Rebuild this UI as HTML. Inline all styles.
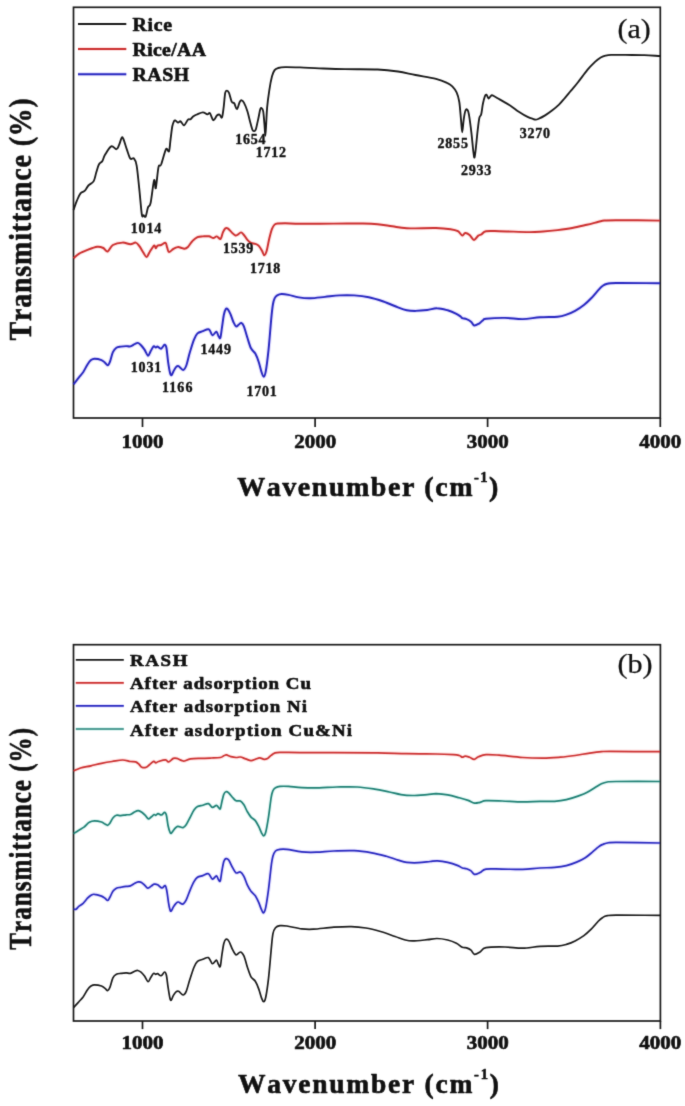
<!DOCTYPE html>
<html><head><meta charset="utf-8"><title>FTIR spectra</title>
<style>
html,body{margin:0;padding:0;background:#fff}
svg{display:block}
text{font-family:'Liberation Serif',serif;fill:#111;stroke:#111;stroke-width:0.6px;stroke-linejoin:round}
</style></head><body>
<svg width="685" height="1106" viewBox="0 0 685 1106">
<defs><filter id="soft" x="0" y="0" width="100%" height="100%" filterUnits="userSpaceOnUse" color-interpolation-filters="sRGB"><feConvolveMatrix order="3" kernelMatrix="0.0144 0.0912 0.0144 0.0912 0.5776 0.0912 0.0144 0.0912 0.0144" edgeMode="duplicate"/></filter></defs>
<rect width="685" height="1106" fill="#fff"/>
<g filter="url(#soft)">
<rect width="685" height="1106" fill="#fff"/>
<rect x="73.5" y="7.3" width="586.8" height="410.7" fill="none" stroke="#1a1a1a" stroke-width="1.7"/>
<line x1="142.5" y1="418.0" x2="142.5" y2="427.0" stroke="#1a1a1a" stroke-width="1.7"/>
<line x1="315.1" y1="418.0" x2="315.1" y2="427.0" stroke="#1a1a1a" stroke-width="1.7"/>
<line x1="487.6" y1="418.0" x2="487.6" y2="427.0" stroke="#1a1a1a" stroke-width="1.7"/>
<line x1="660.3" y1="418.0" x2="660.3" y2="427.0" stroke="#1a1a1a" stroke-width="1.7"/>
<rect x="73.5" y="644.7" width="586.9" height="376.3" fill="none" stroke="#1a1a1a" stroke-width="1.7"/>
<line x1="142.5" y1="1021.0" x2="142.5" y2="1029.1" stroke="#1a1a1a" stroke-width="1.7"/>
<line x1="315.1" y1="1021.0" x2="315.1" y2="1029.1" stroke="#1a1a1a" stroke-width="1.7"/>
<line x1="487.6" y1="1021.0" x2="487.6" y2="1029.1" stroke="#1a1a1a" stroke-width="1.7"/>
<line x1="660.4" y1="1021.0" x2="660.4" y2="1029.1" stroke="#1a1a1a" stroke-width="1.7"/>
<path d="M73.5 210.0C74.1 208.4 75.8 203.2 77.0 200.4C78.2 197.6 79.2 195.0 80.5 193.4C81.8 191.8 83.6 192.0 84.9 190.7C86.2 189.4 86.9 187.1 88.4 185.5C89.9 183.9 92.4 183.3 93.7 181.1C95.0 178.9 95.4 175.1 96.3 172.3C97.2 169.5 97.9 166.4 98.9 164.5C99.9 162.6 101.4 162.6 102.4 161.0C103.4 159.4 103.5 157.2 105.0 154.8C106.5 152.4 109.3 147.3 111.2 146.4C113.1 145.5 115.1 149.4 116.4 149.2C117.7 149.0 118.1 147.1 119.0 145.2C119.9 143.3 121.0 138.7 121.7 137.7C122.4 136.7 122.5 137.0 123.4 139.0C124.3 141.0 125.7 146.3 126.9 149.6C128.1 152.9 129.2 157.2 130.4 158.7C131.6 160.1 132.9 157.2 133.9 158.3C134.9 159.4 135.7 160.3 136.6 165.3C137.5 170.3 138.3 179.9 139.2 188.1C140.1 196.3 141.1 209.9 141.8 214.4C142.5 218.9 142.9 215.0 143.6 215.3C144.2 215.7 145.0 217.8 145.7 216.5C146.4 215.2 147.2 209.7 148.0 207.4C148.8 205.2 149.6 207.5 150.6 203.0C151.6 198.5 153.2 182.7 154.1 180.2C155.0 177.7 155.1 190.3 155.8 188.1C156.5 185.9 157.6 171.0 158.5 167.1C159.4 163.2 159.8 167.5 161.1 164.5C162.3 161.5 164.7 151.4 166.0 149.2C167.3 147.0 168.2 153.0 169.0 151.3C169.8 149.6 170.0 143.2 170.6 139.0C171.2 134.8 171.7 129.3 172.3 126.3C172.9 123.3 173.5 122.2 174.0 121.2C174.5 120.2 174.6 120.2 175.3 120.4C176.0 120.6 177.1 122.4 178.0 122.6C178.9 122.8 179.6 120.8 180.6 121.3C181.6 121.8 182.9 125.7 184.1 125.4C185.3 125.1 186.9 120.6 188.0 119.6C189.1 118.6 189.8 119.8 190.6 119.3C191.4 118.8 191.8 117.6 192.8 116.8C193.8 116.0 195.1 115.2 196.8 114.5C198.5 113.8 201.2 112.3 202.9 112.3C204.7 112.3 206.1 114.2 207.3 114.4C208.5 114.6 208.9 112.2 209.9 113.2C210.9 114.2 212.2 119.8 213.4 120.2C214.6 120.6 215.9 116.4 216.9 115.5C217.9 114.6 218.8 114.3 219.6 114.6C220.4 114.9 221.3 118.8 222.0 117.4C222.7 116.0 223.3 110.2 223.8 106.1C224.3 102.0 224.7 95.5 225.2 92.9C225.7 90.3 226.4 90.6 227.0 90.6C227.6 90.6 228.2 91.1 229.0 92.9C229.8 94.8 230.8 100.0 231.7 101.7C232.6 103.5 233.4 102.2 234.3 103.4C235.2 104.7 236.0 109.4 236.9 109.2C237.8 109.0 238.8 103.7 239.6 102.2C240.4 100.7 241.0 100.2 241.7 100.3C242.4 100.4 242.9 100.8 243.9 102.6C244.9 104.4 246.4 108.1 247.4 111.3C248.4 114.5 249.3 118.7 250.1 121.8C250.9 124.9 251.8 128.1 252.4 129.7C253.0 131.2 253.4 131.1 253.9 131.1C254.4 131.1 255.0 131.5 255.7 129.7C256.4 127.9 257.2 123.4 258.0 120.1C258.8 116.8 259.6 111.6 260.2 109.6C260.8 107.6 261.1 107.9 261.6 108.2C262.1 108.5 262.7 108.7 263.2 111.3C263.7 113.9 264.0 119.5 264.4 123.6C264.8 127.7 265.0 135.8 265.3 135.8C265.6 135.8 265.9 128.3 266.2 123.6C266.5 118.9 266.6 113.3 267.1 107.8C267.6 102.2 268.5 95.5 269.3 90.3C270.1 85.0 271.1 79.7 272.0 76.3C272.9 72.9 273.6 71.5 274.6 70.1C275.6 68.7 276.4 68.5 278.1 68.0C279.9 67.5 281.5 67.2 285.1 67.1C288.8 67.0 294.3 67.2 300.0 67.4C305.7 67.6 311.7 68.0 319.2 68.3C326.7 68.6 335.3 69.0 345.0 69.2C354.7 69.4 368.8 69.1 377.6 69.5C386.4 69.9 391.7 70.6 398.0 71.5C404.3 72.4 409.2 73.8 415.5 75.0C421.8 76.2 430.8 77.5 436.0 78.8C441.2 80.1 444.3 81.5 447.0 82.8C449.7 84.0 450.7 84.7 452.3 86.3C453.9 87.9 455.4 89.8 456.6 92.4C457.8 95.0 458.6 97.5 459.3 102.0C460.0 106.5 460.5 114.6 461.0 119.6C461.5 124.6 461.8 132.2 462.2 132.2C462.6 132.2 463.2 123.2 463.7 119.6C464.2 116.0 464.8 112.5 465.4 110.8C466.0 109.1 466.6 109.0 467.2 109.6C467.8 110.2 468.2 110.3 468.9 114.3C469.6 118.3 470.8 127.5 471.5 133.6C472.2 139.7 472.8 147.1 473.3 151.1C473.8 155.1 474.1 158.2 474.5 157.6C474.9 157.0 475.4 152.2 475.9 147.6C476.4 143.0 477.1 135.1 477.7 130.1C478.3 125.1 478.8 120.4 479.4 117.8C480.0 115.2 480.6 116.6 481.2 114.3C481.8 112.0 482.3 106.7 482.9 103.8C483.5 100.9 484.1 98.3 484.7 96.8C485.3 95.3 485.7 94.4 486.4 94.7C487.1 95.0 488.0 98.3 488.7 98.5C489.4 98.7 490.1 96.4 490.8 95.9C491.5 95.4 491.1 94.8 492.6 95.4C494.1 96.0 496.7 97.7 499.6 99.4C502.5 101.1 506.9 103.5 510.1 105.5C513.3 107.5 515.9 109.8 518.8 111.7C521.7 113.6 525.2 115.7 527.6 116.9C530.0 118.1 531.6 118.5 532.9 118.9C534.2 119.4 534.6 119.6 535.5 119.6C536.4 119.6 536.5 119.7 538.1 119.0C539.7 118.3 542.8 116.8 545.1 115.4C547.4 114.0 549.7 112.4 552.0 110.6C554.3 108.8 556.8 106.7 559.0 104.6C561.2 102.5 563.0 100.1 565.0 97.8C567.0 95.5 568.8 93.2 571.0 90.6C573.2 88.0 575.3 85.7 578.0 82.2C580.7 78.8 584.6 73.3 587.4 69.9C590.2 66.5 592.8 64.0 595.0 61.9C597.2 59.8 599.0 58.5 600.7 57.5C602.5 56.5 603.8 56.0 605.5 55.6C607.2 55.2 607.9 55.0 611.2 54.9C614.5 54.8 619.9 54.8 625.4 54.9C630.9 55.0 638.6 55.0 644.4 55.2C650.2 55.4 657.4 55.9 660.0 56.0" fill="none" stroke="#1a1a1a" stroke-width="1.85" stroke-linejoin="round" stroke-linecap="butt"/>
<path d="M73.5 258.2C74.4 257.5 76.5 255.2 78.8 253.8C81.1 252.4 84.4 251.1 87.5 249.9C90.6 248.7 94.6 247.1 97.2 246.8C99.8 246.5 101.5 247.2 103.3 248.0C105.0 248.8 106.1 252.0 107.7 251.5C109.3 251.0 110.4 246.5 112.9 245.0C115.4 243.5 119.7 242.7 122.6 242.6C125.5 242.5 128.2 244.2 130.4 244.2C132.6 244.2 134.2 242.3 135.7 242.6C137.2 242.9 137.9 244.2 139.2 245.9C140.5 247.6 142.4 251.1 143.6 252.9C144.8 254.8 145.6 257.1 146.6 257.0C147.6 256.9 148.4 253.9 149.7 252.0C150.9 250.1 153.1 246.2 154.1 245.6C155.1 245.0 155.2 248.2 155.8 248.2C156.4 248.2 156.7 246.1 157.6 245.6C158.5 245.1 159.8 245.5 161.1 245.0C162.4 244.5 164.5 242.4 165.5 242.8C166.5 243.2 166.6 246.2 167.2 247.7C167.8 249.2 168.0 251.8 169.0 252.0C170.0 252.2 172.0 249.7 173.4 248.9C174.8 248.1 176.4 247.3 177.7 247.1C179.0 246.9 179.9 247.4 181.0 247.7C182.1 248.0 183.2 248.8 184.4 248.7C185.6 248.6 186.6 248.2 187.9 247.0C189.2 245.8 190.7 242.8 192.3 241.2C193.9 239.5 195.8 237.9 197.5 237.1C199.2 236.3 200.9 236.5 202.8 236.4C204.7 236.3 207.2 236.0 208.9 236.3C210.7 236.6 212.0 238.0 213.3 238.0C214.6 238.0 215.6 236.2 216.8 236.4C218.0 236.6 219.6 239.6 220.6 238.9C221.6 238.2 222.1 234.1 222.9 232.4C223.7 230.7 224.4 229.3 225.2 228.6C226.0 227.9 226.6 227.8 227.7 228.4C228.8 229.0 230.4 231.2 231.7 232.4C232.9 233.6 234.2 235.0 235.2 235.4C236.2 235.8 236.8 235.2 237.8 234.7C238.8 234.2 240.0 232.3 241.0 232.4C242.0 232.5 242.8 233.8 243.9 235.0C245.0 236.2 246.2 238.6 247.4 239.9C248.6 241.2 249.7 242.2 251.0 242.9C252.3 243.6 254.0 243.3 255.3 243.8C256.6 244.3 257.7 244.7 258.8 245.9C259.9 247.1 261.1 249.2 262.0 250.8C262.9 252.4 263.6 255.2 264.4 255.2C265.2 255.2 265.9 253.6 266.7 250.8C267.5 248.0 268.4 242.2 269.3 238.5C270.2 234.8 271.1 231.2 272.0 228.9C272.9 226.6 273.6 225.5 274.6 224.6C275.6 223.7 276.4 223.7 278.1 223.5C279.9 223.3 281.5 223.3 285.1 223.3C288.8 223.3 291.9 223.6 300.0 223.7C308.1 223.8 323.3 223.6 333.8 223.6C344.3 223.6 355.7 223.4 363.0 223.5C370.3 223.6 372.7 223.7 377.6 224.2C382.5 224.7 387.3 225.6 392.2 226.3C397.1 227.0 399.5 228.0 406.8 228.3C414.1 228.6 428.7 227.8 436.0 228.0C443.3 228.2 447.0 228.7 450.6 229.2C454.2 229.7 455.9 230.1 457.9 231.2C459.8 232.3 461.1 235.3 462.3 235.6C463.5 235.9 464.0 233.1 465.2 233.0C466.4 232.9 468.1 233.8 469.6 235.0C471.1 236.2 472.6 239.9 474.0 240.0C475.4 240.1 477.1 236.5 478.3 235.6C479.6 234.7 480.2 235.0 481.5 234.3C482.8 233.6 483.1 231.7 486.0 231.2C488.9 230.7 492.1 231.0 499.2 231.2C506.3 231.3 521.1 232.0 528.4 232.1C535.7 232.2 538.1 231.8 543.0 231.5C547.9 231.2 552.7 230.7 557.6 230.1C562.5 229.5 567.3 228.9 572.2 228.0C577.1 227.1 582.4 225.8 586.8 224.8C591.2 223.8 595.6 222.5 598.5 221.8C601.4 221.1 601.4 220.8 604.3 220.5C607.2 220.2 606.7 220.2 616.0 220.2C625.3 220.2 652.7 220.5 660.0 220.6" fill="none" stroke="rgba(255,40,40,0.10)" stroke-width="4.15" stroke-linejoin="round" stroke-linecap="butt"/>
<path d="M73.5 258.2C74.4 257.5 76.5 255.2 78.8 253.8C81.1 252.4 84.4 251.1 87.5 249.9C90.6 248.7 94.6 247.1 97.2 246.8C99.8 246.5 101.5 247.2 103.3 248.0C105.0 248.8 106.1 252.0 107.7 251.5C109.3 251.0 110.4 246.5 112.9 245.0C115.4 243.5 119.7 242.7 122.6 242.6C125.5 242.5 128.2 244.2 130.4 244.2C132.6 244.2 134.2 242.3 135.7 242.6C137.2 242.9 137.9 244.2 139.2 245.9C140.5 247.6 142.4 251.1 143.6 252.9C144.8 254.8 145.6 257.1 146.6 257.0C147.6 256.9 148.4 253.9 149.7 252.0C150.9 250.1 153.1 246.2 154.1 245.6C155.1 245.0 155.2 248.2 155.8 248.2C156.4 248.2 156.7 246.1 157.6 245.6C158.5 245.1 159.8 245.5 161.1 245.0C162.4 244.5 164.5 242.4 165.5 242.8C166.5 243.2 166.6 246.2 167.2 247.7C167.8 249.2 168.0 251.8 169.0 252.0C170.0 252.2 172.0 249.7 173.4 248.9C174.8 248.1 176.4 247.3 177.7 247.1C179.0 246.9 179.9 247.4 181.0 247.7C182.1 248.0 183.2 248.8 184.4 248.7C185.6 248.6 186.6 248.2 187.9 247.0C189.2 245.8 190.7 242.8 192.3 241.2C193.9 239.5 195.8 237.9 197.5 237.1C199.2 236.3 200.9 236.5 202.8 236.4C204.7 236.3 207.2 236.0 208.9 236.3C210.7 236.6 212.0 238.0 213.3 238.0C214.6 238.0 215.6 236.2 216.8 236.4C218.0 236.6 219.6 239.6 220.6 238.9C221.6 238.2 222.1 234.1 222.9 232.4C223.7 230.7 224.4 229.3 225.2 228.6C226.0 227.9 226.6 227.8 227.7 228.4C228.8 229.0 230.4 231.2 231.7 232.4C232.9 233.6 234.2 235.0 235.2 235.4C236.2 235.8 236.8 235.2 237.8 234.7C238.8 234.2 240.0 232.3 241.0 232.4C242.0 232.5 242.8 233.8 243.9 235.0C245.0 236.2 246.2 238.6 247.4 239.9C248.6 241.2 249.7 242.2 251.0 242.9C252.3 243.6 254.0 243.3 255.3 243.8C256.6 244.3 257.7 244.7 258.8 245.9C259.9 247.1 261.1 249.2 262.0 250.8C262.9 252.4 263.6 255.2 264.4 255.2C265.2 255.2 265.9 253.6 266.7 250.8C267.5 248.0 268.4 242.2 269.3 238.5C270.2 234.8 271.1 231.2 272.0 228.9C272.9 226.6 273.6 225.5 274.6 224.6C275.6 223.7 276.4 223.7 278.1 223.5C279.9 223.3 281.5 223.3 285.1 223.3C288.8 223.3 291.9 223.6 300.0 223.7C308.1 223.8 323.3 223.6 333.8 223.6C344.3 223.6 355.7 223.4 363.0 223.5C370.3 223.6 372.7 223.7 377.6 224.2C382.5 224.7 387.3 225.6 392.2 226.3C397.1 227.0 399.5 228.0 406.8 228.3C414.1 228.6 428.7 227.8 436.0 228.0C443.3 228.2 447.0 228.7 450.6 229.2C454.2 229.7 455.9 230.1 457.9 231.2C459.8 232.3 461.1 235.3 462.3 235.6C463.5 235.9 464.0 233.1 465.2 233.0C466.4 232.9 468.1 233.8 469.6 235.0C471.1 236.2 472.6 239.9 474.0 240.0C475.4 240.1 477.1 236.5 478.3 235.6C479.6 234.7 480.2 235.0 481.5 234.3C482.8 233.6 483.1 231.7 486.0 231.2C488.9 230.7 492.1 231.0 499.2 231.2C506.3 231.3 521.1 232.0 528.4 232.1C535.7 232.2 538.1 231.8 543.0 231.5C547.9 231.2 552.7 230.7 557.6 230.1C562.5 229.5 567.3 228.9 572.2 228.0C577.1 227.1 582.4 225.8 586.8 224.8C591.2 223.8 595.6 222.5 598.5 221.8C601.4 221.1 601.4 220.8 604.3 220.5C607.2 220.2 606.7 220.2 616.0 220.2C625.3 220.2 652.7 220.5 660.0 220.6" fill="none" stroke="#cc3030" stroke-width="1.95" stroke-linejoin="round" stroke-linecap="butt"/>
<path d="M73.5 384.3C74.4 383.2 77.2 379.6 78.8 377.6C80.4 375.6 81.6 374.5 83.1 372.3C84.5 370.1 86.2 366.5 87.5 364.5C88.8 362.5 89.8 361.1 91.0 360.1C92.2 359.1 92.8 358.7 94.5 358.7C96.2 358.7 99.8 359.4 101.5 360.1C103.2 360.8 104.0 361.8 105.0 362.7C106.0 363.6 106.9 365.4 107.7 365.3C108.5 365.2 109.0 364.0 109.9 361.8C110.8 359.6 111.8 354.5 112.9 352.2C114.0 349.9 115.1 348.7 116.4 347.8C117.7 346.9 119.2 346.9 120.8 346.6C122.4 346.3 124.5 346.1 126.1 346.1C127.7 346.1 128.9 346.8 130.4 346.4C131.9 346.0 133.6 344.6 134.8 344.0C136.0 343.4 136.8 342.7 137.8 342.9C138.8 343.1 139.9 344.1 141.0 345.2C142.1 346.3 143.3 347.9 144.5 349.6C145.7 351.4 147.0 355.4 148.0 355.7C149.0 356.0 149.7 352.9 150.6 351.3C151.5 349.8 152.7 347.0 153.6 346.4C154.5 345.8 155.1 347.5 155.8 347.5C156.5 347.5 156.7 346.4 157.6 346.6C158.5 346.8 159.9 349.0 161.1 348.7C162.3 348.4 163.7 344.9 164.6 344.8C165.5 344.7 165.8 345.0 166.4 347.8C167.0 350.6 167.5 357.7 168.1 361.8C168.7 365.9 169.4 370.1 169.9 372.3C170.4 374.6 170.7 375.4 171.3 375.3C171.9 375.2 172.6 372.9 173.4 371.5C174.2 370.1 175.1 368.0 176.0 367.1C176.9 366.2 177.4 365.7 178.6 366.2C179.8 366.7 181.8 370.1 183.1 370.0C184.4 369.9 185.2 368.4 186.3 365.5C187.4 362.6 188.5 356.8 189.8 352.5C191.1 348.2 192.7 342.8 194.0 339.6C195.3 336.4 196.0 334.8 197.5 333.4C199.0 332.0 200.9 331.9 202.8 331.2C204.7 330.5 207.3 328.7 208.9 329.4C210.5 330.1 211.2 334.8 212.4 335.2C213.7 335.6 215.4 331.5 216.4 331.7C217.4 331.9 217.8 335.1 218.5 336.1C219.2 337.1 219.7 339.3 220.3 337.8C220.9 336.3 221.4 331.1 222.0 327.3C222.6 323.5 223.2 318.1 223.8 315.0C224.5 311.9 225.2 309.8 225.9 308.9C226.6 308.0 227.4 308.8 228.2 309.8C229.0 310.8 229.9 313.0 230.8 315.0C231.7 317.0 232.5 320.1 233.4 322.0C234.3 323.9 235.2 325.9 236.1 326.4C237.0 326.8 237.8 325.3 238.7 324.7C239.6 324.1 240.4 322.6 241.3 322.9C242.2 323.2 242.9 323.9 243.9 326.4C244.9 328.9 246.2 334.1 247.4 337.8C248.6 341.5 249.7 345.7 251.0 348.3C252.3 350.9 254.0 351.3 255.3 353.6C256.6 355.9 257.8 359.2 258.8 362.3C259.8 365.4 260.7 369.6 261.5 372.0C262.3 374.4 263.0 376.8 263.7 376.7C264.4 376.6 265.0 375.5 265.8 371.1C266.6 366.7 267.6 358.6 268.5 350.1C269.4 341.6 270.4 327.9 271.1 320.3C271.8 312.7 272.3 308.1 272.9 304.5C273.5 300.9 273.9 299.9 274.6 298.4C275.3 296.9 276.0 296.1 277.2 295.4C278.4 294.7 279.7 294.1 281.6 294.0C283.5 293.9 285.7 294.3 288.6 294.9C291.5 295.5 295.2 296.8 298.8 297.4C302.4 298.0 306.0 298.4 310.4 298.3C314.8 298.2 320.1 297.4 325.0 296.9C329.9 296.4 334.7 295.6 339.6 295.4C344.5 295.1 349.3 295.1 354.2 295.4C359.1 295.7 363.9 296.2 368.8 297.2C373.7 298.2 378.5 299.8 383.4 301.5C388.3 303.2 394.1 305.9 398.0 307.4C401.9 308.9 403.9 309.7 406.8 310.3C409.7 310.9 412.1 310.9 415.5 310.9C418.9 310.8 423.6 310.4 427.2 310.0C430.8 309.6 433.5 308.1 436.9 308.2C440.3 308.2 444.4 309.4 447.7 310.3C450.9 311.2 454.2 312.7 456.4 313.8C458.6 314.9 459.8 316.0 460.8 316.7C461.8 317.4 461.3 317.8 462.3 318.2C463.3 318.6 465.2 318.5 466.6 319.1C468.1 319.7 469.7 320.6 471.0 321.7C472.3 322.8 472.9 325.2 474.2 325.5C475.5 325.8 477.6 324.4 479.0 323.6C480.4 322.8 481.5 321.3 482.7 320.5C483.9 319.7 482.3 319.2 486.0 318.8C489.7 318.4 498.9 317.8 505.0 317.9C511.1 317.9 516.8 319.2 522.6 319.1C528.4 319.0 534.2 317.7 540.0 317.3C545.8 316.9 553.2 317.1 557.6 316.7C562.0 316.3 563.5 315.7 566.4 314.7C569.3 313.7 572.2 312.5 575.1 310.9C578.0 309.3 581.2 307.1 583.9 305.0C586.6 302.9 588.8 300.8 591.2 298.3C593.6 295.8 596.6 292.0 598.5 289.9C600.4 287.8 601.3 286.8 602.8 285.8C604.2 284.8 605.0 284.3 607.2 283.8C609.4 283.3 607.2 283.1 616.0 283.0C624.8 282.9 652.7 283.2 660.0 283.2" fill="none" stroke="rgba(70,50,255,0.12)" stroke-width="4.15" stroke-linejoin="round" stroke-linecap="butt"/>
<path d="M73.5 384.3C74.4 383.2 77.2 379.6 78.8 377.6C80.4 375.6 81.6 374.5 83.1 372.3C84.5 370.1 86.2 366.5 87.5 364.5C88.8 362.5 89.8 361.1 91.0 360.1C92.2 359.1 92.8 358.7 94.5 358.7C96.2 358.7 99.8 359.4 101.5 360.1C103.2 360.8 104.0 361.8 105.0 362.7C106.0 363.6 106.9 365.4 107.7 365.3C108.5 365.2 109.0 364.0 109.9 361.8C110.8 359.6 111.8 354.5 112.9 352.2C114.0 349.9 115.1 348.7 116.4 347.8C117.7 346.9 119.2 346.9 120.8 346.6C122.4 346.3 124.5 346.1 126.1 346.1C127.7 346.1 128.9 346.8 130.4 346.4C131.9 346.0 133.6 344.6 134.8 344.0C136.0 343.4 136.8 342.7 137.8 342.9C138.8 343.1 139.9 344.1 141.0 345.2C142.1 346.3 143.3 347.9 144.5 349.6C145.7 351.4 147.0 355.4 148.0 355.7C149.0 356.0 149.7 352.9 150.6 351.3C151.5 349.8 152.7 347.0 153.6 346.4C154.5 345.8 155.1 347.5 155.8 347.5C156.5 347.5 156.7 346.4 157.6 346.6C158.5 346.8 159.9 349.0 161.1 348.7C162.3 348.4 163.7 344.9 164.6 344.8C165.5 344.7 165.8 345.0 166.4 347.8C167.0 350.6 167.5 357.7 168.1 361.8C168.7 365.9 169.4 370.1 169.9 372.3C170.4 374.6 170.7 375.4 171.3 375.3C171.9 375.2 172.6 372.9 173.4 371.5C174.2 370.1 175.1 368.0 176.0 367.1C176.9 366.2 177.4 365.7 178.6 366.2C179.8 366.7 181.8 370.1 183.1 370.0C184.4 369.9 185.2 368.4 186.3 365.5C187.4 362.6 188.5 356.8 189.8 352.5C191.1 348.2 192.7 342.8 194.0 339.6C195.3 336.4 196.0 334.8 197.5 333.4C199.0 332.0 200.9 331.9 202.8 331.2C204.7 330.5 207.3 328.7 208.9 329.4C210.5 330.1 211.2 334.8 212.4 335.2C213.7 335.6 215.4 331.5 216.4 331.7C217.4 331.9 217.8 335.1 218.5 336.1C219.2 337.1 219.7 339.3 220.3 337.8C220.9 336.3 221.4 331.1 222.0 327.3C222.6 323.5 223.2 318.1 223.8 315.0C224.5 311.9 225.2 309.8 225.9 308.9C226.6 308.0 227.4 308.8 228.2 309.8C229.0 310.8 229.9 313.0 230.8 315.0C231.7 317.0 232.5 320.1 233.4 322.0C234.3 323.9 235.2 325.9 236.1 326.4C237.0 326.8 237.8 325.3 238.7 324.7C239.6 324.1 240.4 322.6 241.3 322.9C242.2 323.2 242.9 323.9 243.9 326.4C244.9 328.9 246.2 334.1 247.4 337.8C248.6 341.5 249.7 345.7 251.0 348.3C252.3 350.9 254.0 351.3 255.3 353.6C256.6 355.9 257.8 359.2 258.8 362.3C259.8 365.4 260.7 369.6 261.5 372.0C262.3 374.4 263.0 376.8 263.7 376.7C264.4 376.6 265.0 375.5 265.8 371.1C266.6 366.7 267.6 358.6 268.5 350.1C269.4 341.6 270.4 327.9 271.1 320.3C271.8 312.7 272.3 308.1 272.9 304.5C273.5 300.9 273.9 299.9 274.6 298.4C275.3 296.9 276.0 296.1 277.2 295.4C278.4 294.7 279.7 294.1 281.6 294.0C283.5 293.9 285.7 294.3 288.6 294.9C291.5 295.5 295.2 296.8 298.8 297.4C302.4 298.0 306.0 298.4 310.4 298.3C314.8 298.2 320.1 297.4 325.0 296.9C329.9 296.4 334.7 295.6 339.6 295.4C344.5 295.1 349.3 295.1 354.2 295.4C359.1 295.7 363.9 296.2 368.8 297.2C373.7 298.2 378.5 299.8 383.4 301.5C388.3 303.2 394.1 305.9 398.0 307.4C401.9 308.9 403.9 309.7 406.8 310.3C409.7 310.9 412.1 310.9 415.5 310.9C418.9 310.8 423.6 310.4 427.2 310.0C430.8 309.6 433.5 308.1 436.9 308.2C440.3 308.2 444.4 309.4 447.7 310.3C450.9 311.2 454.2 312.7 456.4 313.8C458.6 314.9 459.8 316.0 460.8 316.7C461.8 317.4 461.3 317.8 462.3 318.2C463.3 318.6 465.2 318.5 466.6 319.1C468.1 319.7 469.7 320.6 471.0 321.7C472.3 322.8 472.9 325.2 474.2 325.5C475.5 325.8 477.6 324.4 479.0 323.6C480.4 322.8 481.5 321.3 482.7 320.5C483.9 319.7 482.3 319.2 486.0 318.8C489.7 318.4 498.9 317.8 505.0 317.9C511.1 317.9 516.8 319.2 522.6 319.1C528.4 319.0 534.2 317.7 540.0 317.3C545.8 316.9 553.2 317.1 557.6 316.7C562.0 316.3 563.5 315.7 566.4 314.7C569.3 313.7 572.2 312.5 575.1 310.9C578.0 309.3 581.2 307.1 583.9 305.0C586.6 302.9 588.8 300.8 591.2 298.3C593.6 295.8 596.6 292.0 598.5 289.9C600.4 287.8 601.3 286.8 602.8 285.8C604.2 284.8 605.0 284.3 607.2 283.8C609.4 283.3 607.2 283.1 616.0 283.0C624.8 282.9 652.7 283.2 660.0 283.2" fill="none" stroke="#2828c0" stroke-width="1.95" stroke-linejoin="round" stroke-linecap="butt"/>
<path d="M73.5 771.0C74.7 770.5 77.6 768.9 80.5 768.0C83.4 767.1 87.5 766.6 91.0 765.8C94.5 765.0 98.0 764.0 101.5 763.3C105.0 762.6 108.5 762.0 112.0 761.5C115.5 761.0 119.5 760.0 122.6 760.0C125.7 760.0 128.2 761.2 130.4 761.5C132.6 761.8 134.2 761.4 135.7 761.9C137.2 762.4 138.2 763.6 139.2 764.5C140.2 765.4 140.6 766.8 141.8 767.2C143.0 767.7 144.9 767.7 146.2 767.2C147.5 766.8 148.4 765.5 149.7 764.5C150.9 763.5 152.7 761.7 153.7 761.4C154.7 761.1 155.0 762.8 155.8 762.8C156.6 762.8 156.9 762.0 158.5 761.5C160.1 761.0 163.8 759.7 165.5 759.8C167.2 759.9 167.2 762.1 168.5 761.9C169.8 761.7 172.0 759.0 173.4 758.4C174.8 757.8 175.6 758.1 176.9 758.4C178.2 758.7 180.2 760.0 181.5 760.4C182.8 760.8 182.9 761.2 184.4 761.0C185.9 760.8 187.7 759.3 190.5 758.9C193.3 758.5 197.5 758.5 201.0 758.4C204.5 758.2 208.3 758.1 211.5 758.0C214.7 757.9 218.2 757.9 220.3 757.5C222.4 757.1 222.8 756.2 223.8 755.8C224.8 755.4 225.2 754.8 226.4 754.9C227.6 755.0 229.2 756.2 230.8 756.6C232.4 757.0 234.5 757.4 236.1 757.5C237.7 757.6 238.8 756.8 240.4 757.0C242.0 757.2 243.9 758.3 245.7 758.9C247.5 759.5 249.4 760.6 251.0 760.7C252.6 760.8 253.9 759.8 255.3 759.3C256.8 758.8 258.2 757.9 259.7 757.9C261.2 757.9 262.8 759.2 264.1 759.3C265.4 759.4 266.4 759.0 267.6 758.4C268.8 757.8 269.9 756.3 271.1 755.4C272.3 754.5 273.1 753.6 274.6 753.1C276.1 752.6 275.7 752.5 279.9 752.4C284.1 752.3 291.0 752.6 300.0 752.6C309.0 752.6 320.9 752.6 333.8 752.6C346.7 752.6 365.4 752.6 377.6 752.8C389.8 753.0 397.1 753.5 406.8 753.7C416.5 753.9 428.2 753.9 436.0 754.0C443.8 754.1 449.6 754.4 453.5 754.6C457.4 754.9 457.8 755.1 459.3 755.5C460.8 755.9 461.3 757.1 462.3 757.2C463.3 757.3 464.0 756.1 465.2 756.1C466.4 756.1 468.1 756.7 469.6 757.2C471.1 757.7 472.7 759.4 474.2 759.3C475.7 759.2 476.5 757.6 478.5 756.8C480.5 756.0 482.6 754.9 486.0 754.6C489.4 754.3 493.1 754.7 499.2 755.2C505.3 755.7 515.3 757.0 522.6 757.5C529.9 758.0 536.7 758.1 543.0 758.1C549.3 758.1 555.1 757.6 560.5 757.2C565.9 756.8 570.2 756.2 575.1 755.5C580.0 754.8 585.3 753.7 589.7 753.1C594.1 752.5 598.0 752.0 601.4 751.7C604.8 751.4 600.3 751.4 610.1 751.4C619.9 751.4 651.7 751.7 660.0 751.7" fill="none" stroke="rgba(255,40,40,0.10)" stroke-width="3.90" stroke-linejoin="round" stroke-linecap="butt"/>
<path d="M73.5 771.0C74.7 770.5 77.6 768.9 80.5 768.0C83.4 767.1 87.5 766.6 91.0 765.8C94.5 765.0 98.0 764.0 101.5 763.3C105.0 762.6 108.5 762.0 112.0 761.5C115.5 761.0 119.5 760.0 122.6 760.0C125.7 760.0 128.2 761.2 130.4 761.5C132.6 761.8 134.2 761.4 135.7 761.9C137.2 762.4 138.2 763.6 139.2 764.5C140.2 765.4 140.6 766.8 141.8 767.2C143.0 767.7 144.9 767.7 146.2 767.2C147.5 766.8 148.4 765.5 149.7 764.5C150.9 763.5 152.7 761.7 153.7 761.4C154.7 761.1 155.0 762.8 155.8 762.8C156.6 762.8 156.9 762.0 158.5 761.5C160.1 761.0 163.8 759.7 165.5 759.8C167.2 759.9 167.2 762.1 168.5 761.9C169.8 761.7 172.0 759.0 173.4 758.4C174.8 757.8 175.6 758.1 176.9 758.4C178.2 758.7 180.2 760.0 181.5 760.4C182.8 760.8 182.9 761.2 184.4 761.0C185.9 760.8 187.7 759.3 190.5 758.9C193.3 758.5 197.5 758.5 201.0 758.4C204.5 758.2 208.3 758.1 211.5 758.0C214.7 757.9 218.2 757.9 220.3 757.5C222.4 757.1 222.8 756.2 223.8 755.8C224.8 755.4 225.2 754.8 226.4 754.9C227.6 755.0 229.2 756.2 230.8 756.6C232.4 757.0 234.5 757.4 236.1 757.5C237.7 757.6 238.8 756.8 240.4 757.0C242.0 757.2 243.9 758.3 245.7 758.9C247.5 759.5 249.4 760.6 251.0 760.7C252.6 760.8 253.9 759.8 255.3 759.3C256.8 758.8 258.2 757.9 259.7 757.9C261.2 757.9 262.8 759.2 264.1 759.3C265.4 759.4 266.4 759.0 267.6 758.4C268.8 757.8 269.9 756.3 271.1 755.4C272.3 754.5 273.1 753.6 274.6 753.1C276.1 752.6 275.7 752.5 279.9 752.4C284.1 752.3 291.0 752.6 300.0 752.6C309.0 752.6 320.9 752.6 333.8 752.6C346.7 752.6 365.4 752.6 377.6 752.8C389.8 753.0 397.1 753.5 406.8 753.7C416.5 753.9 428.2 753.9 436.0 754.0C443.8 754.1 449.6 754.4 453.5 754.6C457.4 754.9 457.8 755.1 459.3 755.5C460.8 755.9 461.3 757.1 462.3 757.2C463.3 757.3 464.0 756.1 465.2 756.1C466.4 756.1 468.1 756.7 469.6 757.2C471.1 757.7 472.7 759.4 474.2 759.3C475.7 759.2 476.5 757.6 478.5 756.8C480.5 756.0 482.6 754.9 486.0 754.6C489.4 754.3 493.1 754.7 499.2 755.2C505.3 755.7 515.3 757.0 522.6 757.5C529.9 758.0 536.7 758.1 543.0 758.1C549.3 758.1 555.1 757.6 560.5 757.2C565.9 756.8 570.2 756.2 575.1 755.5C580.0 754.8 585.3 753.7 589.7 753.1C594.1 752.5 598.0 752.0 601.4 751.7C604.8 751.4 600.3 751.4 610.1 751.4C619.9 751.4 651.7 751.7 660.0 751.7" fill="none" stroke="#cc3030" stroke-width="1.70" stroke-linejoin="round" stroke-linecap="butt"/>
<path d="M73.5 833.7C74.4 833.1 77.0 831.3 78.8 830.2C80.5 829.1 82.2 828.4 84.0 827.1C85.8 825.8 87.5 823.3 89.3 822.3C91.0 821.3 92.5 820.9 94.5 820.9C96.5 820.9 99.8 821.5 101.5 822.0C103.2 822.5 104.0 823.6 105.0 824.1C106.0 824.6 106.9 825.4 107.7 825.3C108.5 825.1 109.0 824.4 109.9 823.2C110.8 822.0 111.8 819.3 112.9 818.0C114.0 816.7 115.1 815.7 116.4 815.3C117.7 814.9 119.2 815.8 120.8 815.7C122.4 815.6 124.5 815.0 126.1 814.8C127.7 814.6 128.9 815.0 130.4 814.5C131.9 814.0 133.5 812.4 134.8 811.8C136.1 811.1 137.1 810.5 138.3 810.6C139.5 810.7 140.6 811.4 141.8 812.2C143.0 813.0 144.2 814.2 145.3 815.3C146.4 816.4 147.3 818.6 148.3 818.8C149.3 819.0 150.5 817.4 151.5 816.7C152.5 816.0 153.4 814.7 154.1 814.5C154.8 814.3 155.1 815.4 155.8 815.3C156.5 815.1 157.2 813.6 158.1 813.6C159.0 813.6 160.3 815.2 161.4 815.0C162.5 814.8 163.8 812.4 164.6 812.4C165.4 812.4 165.8 813.1 166.4 815.3C167.0 817.5 167.5 823.0 168.1 825.8C168.7 828.6 169.4 830.8 169.9 832.0C170.4 833.2 170.6 833.7 171.3 833.2C172.0 832.8 173.1 830.4 174.2 829.3C175.3 828.2 176.2 826.7 177.7 826.4C179.2 826.1 181.7 827.9 183.1 827.6C184.5 827.3 185.2 826.2 186.3 824.6C187.4 823.0 188.5 820.4 189.8 818.0C191.1 815.6 192.7 812.0 194.0 810.1C195.3 808.2 196.0 807.4 197.5 806.6C199.0 805.8 201.0 805.7 202.8 805.2C204.6 804.7 206.8 803.2 208.4 803.6C210.0 804.0 211.1 807.1 212.4 807.4C213.7 807.7 215.4 805.3 216.4 805.3C217.4 805.3 217.8 806.8 218.5 807.4C219.2 808.0 219.7 809.7 220.3 808.7C220.9 807.7 221.4 803.7 222.0 801.3C222.6 798.9 223.2 795.9 223.8 794.3C224.5 792.7 225.1 791.9 225.9 791.7C226.7 791.5 227.6 791.9 228.7 792.9C229.8 793.9 231.4 796.2 232.6 797.5C233.8 798.8 234.8 800.2 236.1 800.8C237.4 801.4 239.1 800.3 240.4 801.0C241.7 801.7 242.7 803.0 243.9 804.8C245.1 806.6 246.2 809.8 247.4 811.8C248.6 813.8 249.7 815.6 251.0 817.1C252.3 818.6 254.0 819.0 255.3 820.6C256.6 822.2 257.8 824.7 258.8 826.7C259.8 828.7 260.7 831.3 261.5 832.8C262.3 834.3 262.9 835.9 263.6 835.8C264.3 835.7 265.0 835.1 265.8 832.0C266.6 828.9 267.6 822.8 268.5 817.1C269.4 811.4 270.4 802.2 271.1 797.8C271.8 793.4 272.2 792.5 272.9 790.8C273.6 789.1 274.3 788.4 275.5 787.7C276.7 787.0 277.7 786.6 279.9 786.4C282.1 786.2 285.0 786.2 288.6 786.4C292.2 786.6 296.6 787.4 301.7 787.6C306.8 787.9 313.4 788.0 319.2 787.9C325.0 787.8 330.4 787.1 336.7 787.0C343.0 786.9 350.9 786.6 357.2 787.0C363.5 787.4 369.3 788.3 374.7 789.1C380.1 789.9 384.9 791.1 389.3 792.0C393.7 792.9 397.0 794.0 400.9 794.6C404.8 795.2 408.2 795.5 412.6 795.5C417.0 795.5 423.3 794.9 427.2 794.6C431.1 794.3 432.6 793.7 436.0 793.7C439.4 793.8 443.8 794.2 447.7 794.9C451.6 795.6 455.9 796.9 459.3 797.8C462.7 798.7 465.6 799.5 468.1 800.4C470.6 801.3 472.5 802.8 474.5 803.1C476.5 803.4 478.1 802.7 480.0 802.3C481.9 801.9 482.3 800.9 486.0 800.7C489.7 800.5 496.0 800.8 502.1 801.0C508.2 801.2 516.3 801.9 522.6 801.9C528.9 801.9 534.6 801.4 540.0 801.3C545.4 801.2 550.3 801.6 554.7 801.3C559.1 801.0 562.5 800.5 566.4 799.6C570.3 798.7 574.6 797.3 578.0 796.1C581.4 794.9 583.9 794.1 586.8 792.6C589.7 791.1 593.1 788.8 595.5 787.3C597.9 785.8 599.4 784.7 601.4 783.8C603.4 782.9 604.8 782.4 607.2 782.0C609.6 781.6 607.2 781.6 616.0 781.5C624.8 781.4 652.7 781.5 660.0 781.5" fill="none" stroke="rgba(0,190,170,0.10)" stroke-width="3.90" stroke-linejoin="round" stroke-linecap="butt"/>
<path d="M73.5 833.7C74.4 833.1 77.0 831.3 78.8 830.2C80.5 829.1 82.2 828.4 84.0 827.1C85.8 825.8 87.5 823.3 89.3 822.3C91.0 821.3 92.5 820.9 94.5 820.9C96.5 820.9 99.8 821.5 101.5 822.0C103.2 822.5 104.0 823.6 105.0 824.1C106.0 824.6 106.9 825.4 107.7 825.3C108.5 825.1 109.0 824.4 109.9 823.2C110.8 822.0 111.8 819.3 112.9 818.0C114.0 816.7 115.1 815.7 116.4 815.3C117.7 814.9 119.2 815.8 120.8 815.7C122.4 815.6 124.5 815.0 126.1 814.8C127.7 814.6 128.9 815.0 130.4 814.5C131.9 814.0 133.5 812.4 134.8 811.8C136.1 811.1 137.1 810.5 138.3 810.6C139.5 810.7 140.6 811.4 141.8 812.2C143.0 813.0 144.2 814.2 145.3 815.3C146.4 816.4 147.3 818.6 148.3 818.8C149.3 819.0 150.5 817.4 151.5 816.7C152.5 816.0 153.4 814.7 154.1 814.5C154.8 814.3 155.1 815.4 155.8 815.3C156.5 815.1 157.2 813.6 158.1 813.6C159.0 813.6 160.3 815.2 161.4 815.0C162.5 814.8 163.8 812.4 164.6 812.4C165.4 812.4 165.8 813.1 166.4 815.3C167.0 817.5 167.5 823.0 168.1 825.8C168.7 828.6 169.4 830.8 169.9 832.0C170.4 833.2 170.6 833.7 171.3 833.2C172.0 832.8 173.1 830.4 174.2 829.3C175.3 828.2 176.2 826.7 177.7 826.4C179.2 826.1 181.7 827.9 183.1 827.6C184.5 827.3 185.2 826.2 186.3 824.6C187.4 823.0 188.5 820.4 189.8 818.0C191.1 815.6 192.7 812.0 194.0 810.1C195.3 808.2 196.0 807.4 197.5 806.6C199.0 805.8 201.0 805.7 202.8 805.2C204.6 804.7 206.8 803.2 208.4 803.6C210.0 804.0 211.1 807.1 212.4 807.4C213.7 807.7 215.4 805.3 216.4 805.3C217.4 805.3 217.8 806.8 218.5 807.4C219.2 808.0 219.7 809.7 220.3 808.7C220.9 807.7 221.4 803.7 222.0 801.3C222.6 798.9 223.2 795.9 223.8 794.3C224.5 792.7 225.1 791.9 225.9 791.7C226.7 791.5 227.6 791.9 228.7 792.9C229.8 793.9 231.4 796.2 232.6 797.5C233.8 798.8 234.8 800.2 236.1 800.8C237.4 801.4 239.1 800.3 240.4 801.0C241.7 801.7 242.7 803.0 243.9 804.8C245.1 806.6 246.2 809.8 247.4 811.8C248.6 813.8 249.7 815.6 251.0 817.1C252.3 818.6 254.0 819.0 255.3 820.6C256.6 822.2 257.8 824.7 258.8 826.7C259.8 828.7 260.7 831.3 261.5 832.8C262.3 834.3 262.9 835.9 263.6 835.8C264.3 835.7 265.0 835.1 265.8 832.0C266.6 828.9 267.6 822.8 268.5 817.1C269.4 811.4 270.4 802.2 271.1 797.8C271.8 793.4 272.2 792.5 272.9 790.8C273.6 789.1 274.3 788.4 275.5 787.7C276.7 787.0 277.7 786.6 279.9 786.4C282.1 786.2 285.0 786.2 288.6 786.4C292.2 786.6 296.6 787.4 301.7 787.6C306.8 787.9 313.4 788.0 319.2 787.9C325.0 787.8 330.4 787.1 336.7 787.0C343.0 786.9 350.9 786.6 357.2 787.0C363.5 787.4 369.3 788.3 374.7 789.1C380.1 789.9 384.9 791.1 389.3 792.0C393.7 792.9 397.0 794.0 400.9 794.6C404.8 795.2 408.2 795.5 412.6 795.5C417.0 795.5 423.3 794.9 427.2 794.6C431.1 794.3 432.6 793.7 436.0 793.7C439.4 793.8 443.8 794.2 447.7 794.9C451.6 795.6 455.9 796.9 459.3 797.8C462.7 798.7 465.6 799.5 468.1 800.4C470.6 801.3 472.5 802.8 474.5 803.1C476.5 803.4 478.1 802.7 480.0 802.3C481.9 801.9 482.3 800.9 486.0 800.7C489.7 800.5 496.0 800.8 502.1 801.0C508.2 801.2 516.3 801.9 522.6 801.9C528.9 801.9 534.6 801.4 540.0 801.3C545.4 801.2 550.3 801.6 554.7 801.3C559.1 801.0 562.5 800.5 566.4 799.6C570.3 798.7 574.6 797.3 578.0 796.1C581.4 794.9 583.9 794.1 586.8 792.6C589.7 791.1 593.1 788.8 595.5 787.3C597.9 785.8 599.4 784.7 601.4 783.8C603.4 782.9 604.8 782.4 607.2 782.0C609.6 781.6 607.2 781.6 616.0 781.5C624.8 781.4 652.7 781.5 660.0 781.5" fill="none" stroke="#1f8074" stroke-width="1.70" stroke-linejoin="round" stroke-linecap="butt"/>
<path d="M73.5 909.2C73.9 909.2 75.2 909.7 76.1 909.2C77.0 908.7 77.6 907.4 78.8 906.4C80.0 905.4 81.6 904.8 83.1 903.4C84.5 902.0 86.2 899.6 87.5 898.2C88.8 896.8 89.8 895.9 91.0 895.2C92.2 894.6 92.8 894.1 94.5 894.3C96.2 894.4 99.8 895.5 101.5 896.1C103.2 896.8 104.0 897.5 105.0 898.2C106.0 898.9 106.9 900.6 107.7 900.5C108.5 900.4 109.0 898.8 109.9 897.3C110.8 895.8 111.8 892.7 112.9 891.2C114.0 889.7 115.1 888.9 116.4 888.2C117.7 887.6 119.2 887.6 120.8 887.3C122.4 887.0 124.5 886.6 126.1 886.4C127.7 886.2 128.9 886.4 130.4 885.9C131.9 885.4 133.5 884.0 134.8 883.3C136.1 882.6 137.2 882.0 138.3 881.9C139.4 881.8 140.3 881.7 141.5 882.4C142.7 883.1 144.2 884.9 145.3 885.9C146.4 886.9 147.0 888.2 148.0 888.2C149.0 888.2 150.5 886.6 151.5 885.9C152.5 885.2 153.1 884.4 154.1 884.2C155.1 884.0 156.3 884.1 157.6 884.7C158.9 885.3 160.8 887.9 162.0 888.0C163.2 888.1 164.3 885.2 165.1 885.6C165.9 886.0 166.1 887.5 166.7 890.3C167.3 893.1 168.0 899.4 168.5 902.6C169.0 905.8 169.5 908.2 169.9 909.6C170.3 911.0 170.5 911.5 171.1 911.0C171.7 910.5 172.6 908.2 173.4 906.9C174.2 905.6 175.2 904.2 176.0 903.4C176.8 902.6 177.2 901.9 178.3 902.0C179.4 902.1 181.5 904.4 182.8 904.1C184.1 903.8 185.0 902.2 186.1 900.1C187.2 898.0 188.3 894.4 189.6 891.3C190.9 888.2 192.7 884.0 194.0 881.7C195.3 879.4 196.0 878.3 197.5 877.3C199.0 876.3 201.0 876.2 202.8 875.6C204.6 875.0 206.8 873.2 208.4 873.8C210.0 874.4 211.1 878.8 212.4 879.1C213.7 879.5 215.4 875.8 216.4 875.9C217.4 876.0 217.8 878.8 218.5 879.6C219.2 880.4 219.7 882.3 220.3 880.8C220.9 879.2 221.4 873.5 222.0 870.3C222.6 867.1 223.2 863.5 223.8 861.5C224.5 859.5 225.1 858.8 225.9 858.6C226.7 858.4 227.6 858.6 228.7 860.1C229.8 861.6 231.4 865.6 232.6 867.7C233.8 869.8 234.8 872.2 236.1 872.9C237.4 873.6 239.1 871.4 240.4 872.0C241.7 872.6 242.7 874.2 243.9 876.4C245.1 878.6 246.2 882.7 247.4 885.2C248.6 887.7 249.7 889.5 251.0 891.3C252.3 893.0 254.0 893.8 255.3 895.7C256.6 897.6 257.8 900.4 258.8 902.7C259.8 905.0 260.7 908.0 261.5 909.7C262.3 911.4 262.9 913.1 263.6 912.7C264.3 912.3 265.0 911.0 265.8 907.1C266.6 903.2 267.6 896.3 268.5 889.6C269.4 882.9 270.4 872.3 271.1 866.8C271.8 861.2 272.2 858.9 272.9 856.3C273.6 853.7 274.3 852.2 275.5 851.0C276.7 849.8 278.0 849.6 279.9 849.3C281.8 849.0 283.3 848.9 286.9 849.3C290.5 849.7 296.8 851.4 301.7 851.9C306.6 852.4 310.9 852.4 316.3 852.2C321.7 852.1 327.5 851.2 333.8 851.0C340.1 850.8 347.9 850.4 354.2 850.7C360.5 851.0 366.4 851.9 371.8 852.8C377.2 853.7 382.0 855.1 386.4 856.3C390.8 857.5 394.6 859.1 398.0 860.1C401.4 861.1 403.4 862.0 406.8 862.4C410.2 862.8 414.6 862.9 418.5 862.7C422.4 862.6 427.0 861.8 430.1 861.5C433.2 861.2 434.5 860.8 437.4 860.9C440.3 861.0 444.3 861.6 447.7 862.4C451.1 863.2 455.5 864.7 457.9 865.6C460.3 866.5 460.9 867.5 462.3 868.0C463.8 868.5 465.2 868.3 466.6 868.8C468.1 869.3 469.7 870.0 471.0 870.9C472.3 871.8 473.0 874.1 474.5 874.4C476.0 874.7 478.1 873.5 480.0 872.6C481.9 871.7 482.3 869.7 486.0 869.1C489.7 868.5 496.0 869.1 502.1 869.1C508.2 869.1 516.3 869.6 522.6 869.4C528.9 869.2 534.6 868.3 540.0 868.0C545.4 867.7 550.3 867.8 554.7 867.4C559.1 867.0 562.8 866.5 566.4 865.6C570.0 864.7 573.5 863.4 576.6 862.1C579.8 860.8 582.6 859.4 585.3 857.7C588.0 856.0 590.4 853.7 592.6 851.9C594.8 850.1 596.8 848.1 598.5 846.9C600.2 845.6 601.3 845.0 602.8 844.4C604.2 843.8 605.0 843.3 607.2 843.0C609.4 842.7 607.2 842.4 616.0 842.4C624.8 842.4 652.7 842.9 660.0 843.0" fill="none" stroke="rgba(70,50,255,0.12)" stroke-width="3.90" stroke-linejoin="round" stroke-linecap="butt"/>
<path d="M73.5 909.2C73.9 909.2 75.2 909.7 76.1 909.2C77.0 908.7 77.6 907.4 78.8 906.4C80.0 905.4 81.6 904.8 83.1 903.4C84.5 902.0 86.2 899.6 87.5 898.2C88.8 896.8 89.8 895.9 91.0 895.2C92.2 894.6 92.8 894.1 94.5 894.3C96.2 894.4 99.8 895.5 101.5 896.1C103.2 896.8 104.0 897.5 105.0 898.2C106.0 898.9 106.9 900.6 107.7 900.5C108.5 900.4 109.0 898.8 109.9 897.3C110.8 895.8 111.8 892.7 112.9 891.2C114.0 889.7 115.1 888.9 116.4 888.2C117.7 887.6 119.2 887.6 120.8 887.3C122.4 887.0 124.5 886.6 126.1 886.4C127.7 886.2 128.9 886.4 130.4 885.9C131.9 885.4 133.5 884.0 134.8 883.3C136.1 882.6 137.2 882.0 138.3 881.9C139.4 881.8 140.3 881.7 141.5 882.4C142.7 883.1 144.2 884.9 145.3 885.9C146.4 886.9 147.0 888.2 148.0 888.2C149.0 888.2 150.5 886.6 151.5 885.9C152.5 885.2 153.1 884.4 154.1 884.2C155.1 884.0 156.3 884.1 157.6 884.7C158.9 885.3 160.8 887.9 162.0 888.0C163.2 888.1 164.3 885.2 165.1 885.6C165.9 886.0 166.1 887.5 166.7 890.3C167.3 893.1 168.0 899.4 168.5 902.6C169.0 905.8 169.5 908.2 169.9 909.6C170.3 911.0 170.5 911.5 171.1 911.0C171.7 910.5 172.6 908.2 173.4 906.9C174.2 905.6 175.2 904.2 176.0 903.4C176.8 902.6 177.2 901.9 178.3 902.0C179.4 902.1 181.5 904.4 182.8 904.1C184.1 903.8 185.0 902.2 186.1 900.1C187.2 898.0 188.3 894.4 189.6 891.3C190.9 888.2 192.7 884.0 194.0 881.7C195.3 879.4 196.0 878.3 197.5 877.3C199.0 876.3 201.0 876.2 202.8 875.6C204.6 875.0 206.8 873.2 208.4 873.8C210.0 874.4 211.1 878.8 212.4 879.1C213.7 879.5 215.4 875.8 216.4 875.9C217.4 876.0 217.8 878.8 218.5 879.6C219.2 880.4 219.7 882.3 220.3 880.8C220.9 879.2 221.4 873.5 222.0 870.3C222.6 867.1 223.2 863.5 223.8 861.5C224.5 859.5 225.1 858.8 225.9 858.6C226.7 858.4 227.6 858.6 228.7 860.1C229.8 861.6 231.4 865.6 232.6 867.7C233.8 869.8 234.8 872.2 236.1 872.9C237.4 873.6 239.1 871.4 240.4 872.0C241.7 872.6 242.7 874.2 243.9 876.4C245.1 878.6 246.2 882.7 247.4 885.2C248.6 887.7 249.7 889.5 251.0 891.3C252.3 893.0 254.0 893.8 255.3 895.7C256.6 897.6 257.8 900.4 258.8 902.7C259.8 905.0 260.7 908.0 261.5 909.7C262.3 911.4 262.9 913.1 263.6 912.7C264.3 912.3 265.0 911.0 265.8 907.1C266.6 903.2 267.6 896.3 268.5 889.6C269.4 882.9 270.4 872.3 271.1 866.8C271.8 861.2 272.2 858.9 272.9 856.3C273.6 853.7 274.3 852.2 275.5 851.0C276.7 849.8 278.0 849.6 279.9 849.3C281.8 849.0 283.3 848.9 286.9 849.3C290.5 849.7 296.8 851.4 301.7 851.9C306.6 852.4 310.9 852.4 316.3 852.2C321.7 852.1 327.5 851.2 333.8 851.0C340.1 850.8 347.9 850.4 354.2 850.7C360.5 851.0 366.4 851.9 371.8 852.8C377.2 853.7 382.0 855.1 386.4 856.3C390.8 857.5 394.6 859.1 398.0 860.1C401.4 861.1 403.4 862.0 406.8 862.4C410.2 862.8 414.6 862.9 418.5 862.7C422.4 862.6 427.0 861.8 430.1 861.5C433.2 861.2 434.5 860.8 437.4 860.9C440.3 861.0 444.3 861.6 447.7 862.4C451.1 863.2 455.5 864.7 457.9 865.6C460.3 866.5 460.9 867.5 462.3 868.0C463.8 868.5 465.2 868.3 466.6 868.8C468.1 869.3 469.7 870.0 471.0 870.9C472.3 871.8 473.0 874.1 474.5 874.4C476.0 874.7 478.1 873.5 480.0 872.6C481.9 871.7 482.3 869.7 486.0 869.1C489.7 868.5 496.0 869.1 502.1 869.1C508.2 869.1 516.3 869.6 522.6 869.4C528.9 869.2 534.6 868.3 540.0 868.0C545.4 867.7 550.3 867.8 554.7 867.4C559.1 867.0 562.8 866.5 566.4 865.6C570.0 864.7 573.5 863.4 576.6 862.1C579.8 860.8 582.6 859.4 585.3 857.7C588.0 856.0 590.4 853.7 592.6 851.9C594.8 850.1 596.8 848.1 598.5 846.9C600.2 845.6 601.3 845.0 602.8 844.4C604.2 843.8 605.0 843.3 607.2 843.0C609.4 842.7 607.2 842.4 616.0 842.4C624.8 842.4 652.7 842.9 660.0 843.0" fill="none" stroke="#2828c0" stroke-width="1.70" stroke-linejoin="round" stroke-linecap="butt"/>
<path d="M73.5 1007.6C74.4 1006.6 77.2 1003.5 78.8 1001.8C80.4 1000.0 81.6 999.1 83.1 997.1C84.5 995.1 86.2 991.6 87.5 989.7C88.8 987.9 89.8 986.8 91.0 986.0C92.2 985.2 92.8 984.8 94.5 984.8C96.2 984.8 99.8 985.4 101.5 986.0C103.2 986.6 104.0 987.5 105.0 988.3C106.0 989.1 106.9 990.8 107.7 990.6C108.5 990.5 109.0 989.5 109.9 987.4C110.8 985.3 111.8 980.0 112.9 977.8C114.0 975.6 115.1 975.0 116.4 974.3C117.7 973.6 119.2 973.6 120.8 973.4C122.4 973.2 124.5 972.9 126.1 972.9C127.7 972.9 128.9 973.7 130.4 973.4C131.9 973.1 133.6 971.7 134.8 971.2C136.0 970.7 136.8 970.3 137.8 970.5C138.8 970.7 139.9 971.3 141.0 972.2C142.1 973.1 143.3 974.5 144.5 976.1C145.7 977.7 147.0 981.4 148.0 981.7C149.0 982.0 149.7 979.2 150.6 977.8C151.5 976.4 152.7 974.0 153.6 973.4C154.5 972.8 155.1 974.3 155.8 974.3C156.5 974.3 156.7 973.4 157.6 973.6C158.5 973.8 159.9 976.0 161.1 975.7C162.3 975.4 163.7 972.1 164.6 972.0C165.5 971.9 165.8 972.6 166.4 975.2C167.0 977.8 167.5 983.6 168.1 987.4C168.7 991.2 169.4 995.9 169.9 998.0C170.4 1000.1 170.7 1000.6 171.3 1000.1C171.9 999.6 172.6 996.7 173.4 995.3C174.2 993.9 175.1 992.5 176.0 991.8C176.9 991.1 177.4 990.8 178.6 991.3C179.8 991.8 181.8 994.9 183.1 995.0C184.3 995.1 185.0 994.2 186.1 991.7C187.2 989.2 188.3 984.4 189.6 980.3C190.9 976.2 192.7 970.4 194.0 967.2C195.3 964.1 196.0 962.7 197.5 961.4C199.0 960.1 201.0 959.9 202.8 959.3C204.6 958.7 206.8 956.9 208.4 957.6C210.0 958.3 211.1 963.3 212.4 963.7C213.7 964.1 215.4 960.1 216.4 960.2C217.4 960.4 217.8 963.6 218.5 964.6C219.2 965.6 219.7 968.0 220.3 966.3C220.9 964.5 221.4 957.9 222.0 954.1C222.6 950.3 223.2 946.0 223.8 943.5C224.5 941.0 225.1 939.6 225.9 939.2C226.7 938.8 227.6 939.1 228.7 940.9C229.8 942.6 231.4 947.4 232.6 949.7C233.8 952.0 234.8 954.5 236.1 954.9C237.4 955.3 239.1 951.9 240.4 952.0C241.7 952.1 242.7 953.3 243.9 955.8C245.1 958.3 246.2 963.7 247.4 967.2C248.6 970.7 249.7 974.5 251.0 976.8C252.3 979.1 254.0 979.2 255.3 981.2C256.6 983.2 257.8 986.3 258.8 989.1C259.8 991.9 260.7 995.8 261.5 997.9C262.3 1000.0 262.9 1001.9 263.6 1001.7C264.3 1001.6 265.0 1000.9 265.8 997.0C266.6 993.1 267.6 986.3 268.5 978.6C269.4 970.9 270.4 958.1 271.1 950.6C271.8 943.1 272.2 937.7 272.9 933.9C273.6 930.1 274.3 929.2 275.5 927.8C276.7 926.4 278.0 926.0 279.9 925.7C281.8 925.4 283.3 925.5 286.9 926.0C290.5 926.5 297.3 928.4 301.7 928.9C306.1 929.4 308.0 929.5 313.4 929.2C318.8 928.9 327.5 927.6 333.8 927.2C340.1 926.8 346.0 926.5 351.3 926.6C356.6 926.7 361.0 927.2 365.9 928.0C370.8 928.8 375.6 930.1 380.5 931.5C385.4 932.9 391.0 935.1 395.1 936.5C399.2 937.9 402.4 939.3 405.3 940.0C408.2 940.7 409.0 940.9 412.6 940.9C416.2 940.9 423.1 940.1 427.2 939.7C431.2 939.3 433.5 938.5 436.9 938.5C440.3 938.5 444.4 939.2 447.7 940.0C450.9 940.8 454.0 942.0 456.4 943.2C458.8 944.4 460.6 946.5 462.3 947.3C464.0 948.1 465.2 947.4 466.6 947.9C468.1 948.4 469.7 949.1 471.0 950.2C472.3 951.3 473.0 954.0 474.5 954.3C476.0 954.6 478.1 953.1 480.0 952.0C481.9 950.9 481.8 948.4 486.0 947.6C490.2 946.8 498.9 946.9 505.0 947.0C511.1 947.1 516.8 948.3 522.6 948.2C528.4 948.1 534.2 946.8 540.0 946.4C545.8 946.0 553.2 946.4 557.6 946.1C562.0 945.8 563.5 945.3 566.4 944.4C569.3 943.5 572.2 942.4 575.1 940.9C578.0 939.4 581.2 937.5 583.9 935.6C586.6 933.7 588.8 931.6 591.2 929.2C593.6 926.8 596.6 923.0 598.5 921.0C600.4 919.0 601.3 918.3 602.8 917.4C604.2 916.5 605.0 916.1 607.2 915.7C609.4 915.3 607.2 915.2 616.0 915.1C624.8 915.0 652.7 915.4 660.0 915.4" fill="none" stroke="#1a1a1a" stroke-width="1.70" stroke-linejoin="round" stroke-linecap="butt"/>
<line x1="78.0" y1="24.0" x2="126.3" y2="24.0" stroke="#1a1a1a" stroke-width="2.00"/>
<line x1="78.0" y1="48.9" x2="126.3" y2="48.9" stroke="rgba(255,40,40,0.10)" stroke-width="4.20"/>
<line x1="78.0" y1="48.9" x2="126.3" y2="48.9" stroke="#cc3030" stroke-width="2.00"/>
<line x1="78.0" y1="74.2" x2="126.3" y2="74.2" stroke="rgba(70,50,255,0.12)" stroke-width="4.20"/>
<line x1="78.0" y1="74.2" x2="126.3" y2="74.2" stroke="#2828c0" stroke-width="2.00"/>
<line x1="75.8" y1="659.8" x2="123.8" y2="659.8" stroke="#1a1a1a" stroke-width="1.70"/>
<line x1="75.8" y1="682.9" x2="123.8" y2="682.9" stroke="rgba(255,40,40,0.10)" stroke-width="3.90"/>
<line x1="75.8" y1="682.9" x2="123.8" y2="682.9" stroke="#cc3030" stroke-width="1.70"/>
<line x1="75.8" y1="705.9" x2="123.8" y2="705.9" stroke="rgba(70,50,255,0.12)" stroke-width="3.90"/>
<line x1="75.8" y1="705.9" x2="123.8" y2="705.9" stroke="#2828c0" stroke-width="1.70"/>
<line x1="75.8" y1="729.0" x2="123.8" y2="729.0" stroke="rgba(0,190,170,0.10)" stroke-width="3.90"/>
<line x1="75.8" y1="729.0" x2="123.8" y2="729.0" stroke="#1f8074" stroke-width="1.70"/>
<text transform="translate(132.5 30.7) scale(1.070 1)" font-size="18.50" font-weight="bold" textLength="37.0" lengthAdjust="spacing">Rice</text>
<text transform="translate(132.5 55.7) scale(1.070 1)" font-size="18.50" font-weight="bold" textLength="68.7" lengthAdjust="spacing">Rice/AA</text>
<text transform="translate(132.5 81.4) scale(1.070 1)" font-size="18.50" font-weight="bold" textLength="53.0" lengthAdjust="spacing">RASH</text>
<text x="617.6" y="37.7" font-size="28.00" font-weight="normal" textLength="33.2" lengthAdjust="spacingAndGlyphs" style="stroke-width:0.25px">(a)</text>
<text x="617.4" y="672.6" font-size="27.00" font-weight="normal" textLength="35.2" lengthAdjust="spacingAndGlyphs" style="stroke-width:0.25px">(b)</text>
<text x="235.2" y="143.7" font-size="14.00" font-weight="bold" textLength="30.4" lengthAdjust="spacing" style="stroke-width:0.4px">1654</text>
<text x="255.7" y="156.7" font-size="14.00" font-weight="bold" textLength="30.4" lengthAdjust="spacing" style="stroke-width:0.4px">1712</text>
<text x="437.5" y="147.6" font-size="14.00" font-weight="bold" textLength="30.4" lengthAdjust="spacing" style="stroke-width:0.4px">2855</text>
<text x="460.9" y="175.4" font-size="14.00" font-weight="bold" textLength="30.4" lengthAdjust="spacing" style="stroke-width:0.4px">2933</text>
<text x="519.7" y="137.8" font-size="14.00" font-weight="bold" textLength="30.4" lengthAdjust="spacing" style="stroke-width:0.4px">3270</text>
<text x="130.8" y="233.0" font-size="14.00" font-weight="bold" textLength="30.4" lengthAdjust="spacing" style="stroke-width:0.4px">1014</text>
<text x="222.9" y="252.8" font-size="14.00" font-weight="bold" textLength="30.4" lengthAdjust="spacing" style="stroke-width:0.4px">1539</text>
<text x="249.9" y="272.9" font-size="14.00" font-weight="bold" textLength="30.4" lengthAdjust="spacing" style="stroke-width:0.4px">1718</text>
<text x="130.8" y="372.3" font-size="14.00" font-weight="bold" textLength="30.4" lengthAdjust="spacing" style="stroke-width:0.4px">1031</text>
<text x="162.0" y="392.0" font-size="14.00" font-weight="bold" textLength="30.4" lengthAdjust="spacing" style="stroke-width:0.4px">1166</text>
<text x="200.5" y="353.6" font-size="14.00" font-weight="bold" textLength="30.4" lengthAdjust="spacing" style="stroke-width:0.4px">1449</text>
<text x="246.4" y="395.6" font-size="14.00" font-weight="bold" textLength="30.4" lengthAdjust="spacing" style="stroke-width:0.4px">1701</text>
<text x="142.5" y="447.8" font-size="19.50" font-weight="bold" text-anchor="middle" textLength="42.0" lengthAdjust="spacingAndGlyphs">1000</text>
<text x="315.2" y="447.8" font-size="19.50" font-weight="bold" text-anchor="middle" textLength="42.0" lengthAdjust="spacingAndGlyphs">2000</text>
<text x="487.8" y="447.8" font-size="19.50" font-weight="bold" text-anchor="middle" textLength="42.0" lengthAdjust="spacingAndGlyphs">3000</text>
<text x="660.3" y="447.8" font-size="19.50" font-weight="bold" text-anchor="middle" textLength="42.0" lengthAdjust="spacingAndGlyphs">4000</text>
<text x="142.5" y="1049.0" font-size="17.80" font-weight="bold" text-anchor="middle" textLength="42.0" lengthAdjust="spacingAndGlyphs">1000</text>
<text x="315.2" y="1049.0" font-size="17.80" font-weight="bold" text-anchor="middle" textLength="42.0" lengthAdjust="spacingAndGlyphs">2000</text>
<text x="487.8" y="1049.0" font-size="17.80" font-weight="bold" text-anchor="middle" textLength="42.0" lengthAdjust="spacingAndGlyphs">3000</text>
<text x="660.3" y="1049.0" font-size="17.80" font-weight="bold" text-anchor="middle" textLength="42.0" lengthAdjust="spacingAndGlyphs">4000</text>
<text transform="translate(130.0 665.6) scale(1.100 1)" font-size="17.20" font-weight="bold" textLength="52.3" lengthAdjust="spacing">RASH</text>
<text transform="translate(130.0 688.9) scale(1.100 1)" font-size="17.20" font-weight="bold" textLength="164.5" lengthAdjust="spacing">After adsorption Cu</text>
<text transform="translate(130.0 712.2) scale(1.100 1)" font-size="17.20" font-weight="bold" textLength="160.9" lengthAdjust="spacing">After adsorption Ni</text>
<text transform="translate(130.0 735.6) scale(1.100 1)" font-size="17.20" font-weight="bold" textLength="201.8" lengthAdjust="spacing">After asdorption Cu&amp;Ni</text>
<g transform="translate(237.3 495.8) scale(1.0000 1)"><text font-size="28.00" font-weight="bold" letter-spacing="1.52" style="font-kerning:none">Wavenumber (cm<tspan font-size="14.50" dy="-13.5">-1</tspan><tspan dy="13.5">)</tspan></text></g>
<g transform="translate(238.0 1092.7) scale(1.0000 1)"><text font-size="27.50" font-weight="bold" letter-spacing="1.75" style="font-kerning:none">Wavenumber (cm<tspan font-size="14.50" dy="-13.5">-1</tspan><tspan dy="13.5">)</tspan></text></g>
<g transform="translate(30.6 340.6) rotate(-90) scale(0.9000 1)"><text font-size="31.00" font-weight="bold" letter-spacing="0.97" style="font-kerning:none">Transmittance (%)</text></g>
<g transform="translate(30.8 949.7) rotate(-90) scale(0.8100 1)"><text font-size="31.00" font-weight="bold" letter-spacing="1.25" style="font-kerning:none">Transmittance (%)</text></g>
</g>
</svg>
</body></html>
